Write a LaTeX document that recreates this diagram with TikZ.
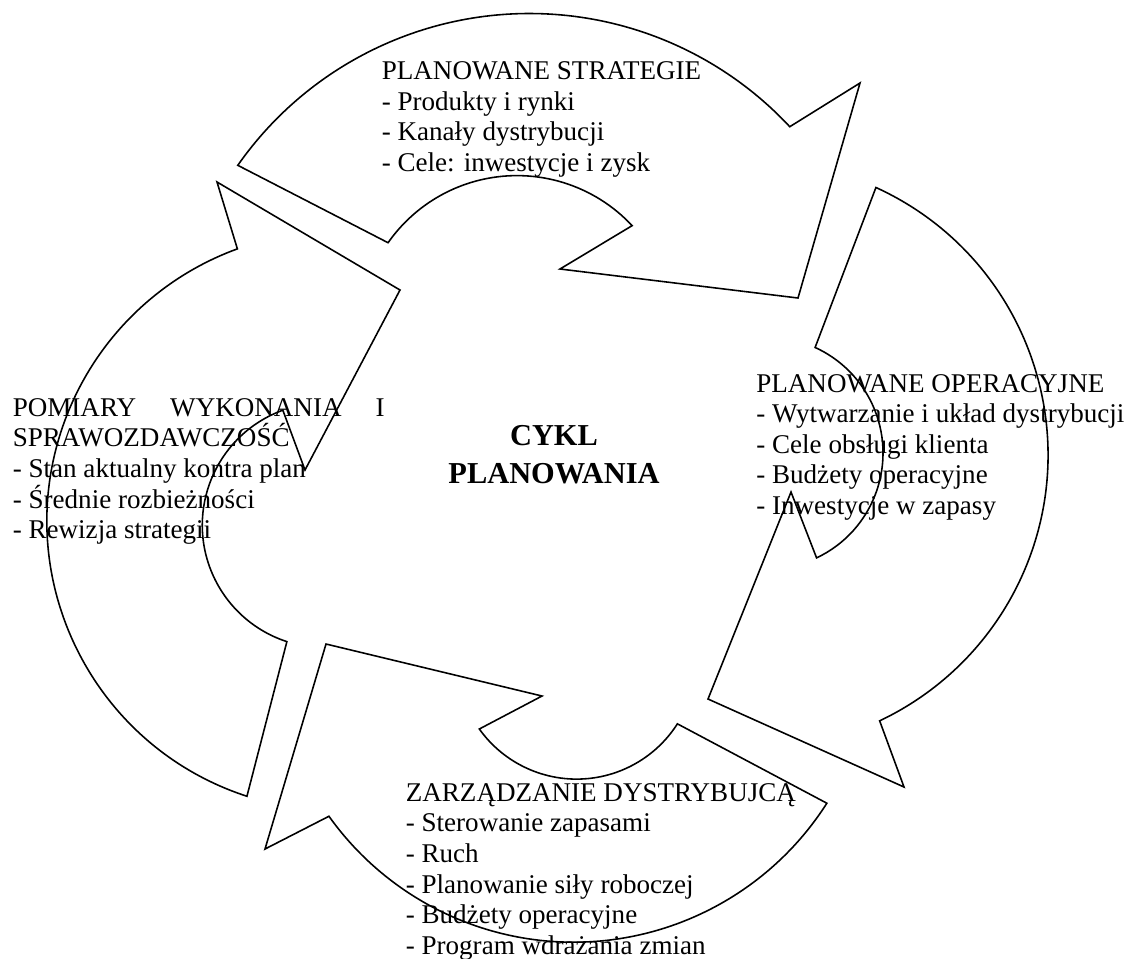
\documentclass[tikz,border=0pt]{standalone}
\usepackage{fontspec}
\setmainfont{Liberation Serif}
\usetikzlibrary{calc}
\begin{document}
\begin{tikzpicture}[x=0.02cm,y=-0.02cm,
  every node/.style={font=\fontsize{15.4}{17.4}\selectfont, inner sep=0pt, align=left, anchor=north west},
  ringarrow/.style={draw=black, line width=0.9pt, line join=miter}]
\useasboundingbox (0,0) rectangle (1124,958);
% four curved block arrows: outer centre/radius, inner centre/radius, start/end angle, outer barb, tip, inner barb
\foreach \ox/\oy/\R/\ix/\iy/\r/\a/\b/\px/\py/\tx/\ty/\qx/\qy in {
  529.4/369.5/356/517/333/157.4/-145/-43/860/83/798/298/560/269,
  754/455/294/767/453/116/-65.5/64.7/904/787/708/699/791/492,
  573.5/641.8/300.4/576.6/659.6/119.5/32.5/144.5/265/849/326/644/542/696,
  336.4/520.9/289.5/324.7/525.2/122.4/108/250/217/182/400/290/305/470}{
  \draw[ringarrow] (\ox,\oy) ++(\a:\R) arc[start angle=\a, end angle=\b, radius=\R]
    -- (\px,\py) -- (\tx,\ty) -- (\qx,\qy) -- ($(\ix,\iy)+(\b:\r)$)
    arc[start angle=\b, end angle=\a, radius=\r] -- cycle;}
% texts of the four stages
\node (strat) at (381.5,61.3) {PLANOWANE STRATEGIE\\- Produkty i rynki\\- Kanały dystrybucji\\- Cele: inwestycje i zysk};
\node (oper) at (756,374) {PLANOWANE OPERACYJNE\\- Wytwarzanie i układ dystrybucji\\- Cele obsługi klienta\\- Budżety operacyjne\\- Inwestycje w zapasy};
\node (pomiar) at (12.5,398.1) {\makebox[7.44cm][s]{POMIARY WYKONANIA I}\\SPRAWOZDAWCZOŚĆ\\- Stan aktualny kontra plan\\- Średnie rozbieżności\\- Rewizja strategii};
\node (zarz) at (405.5,783) {ZARZĄDZANIE DYSTRYBUJCĄ\\- Sterowanie zapasami\\- Ruch\\- Planowanie siły roboczej\\- Budżety operacyjne\\- Program wdrażania zmian};
% centre
\node[font=\bfseries\fontsize{17.3}{21.5}\selectfont, align=center, anchor=north] (cykl) at (554,425) {CYKL\\PLANOWANIA};
\end{tikzpicture}
\end{document}
